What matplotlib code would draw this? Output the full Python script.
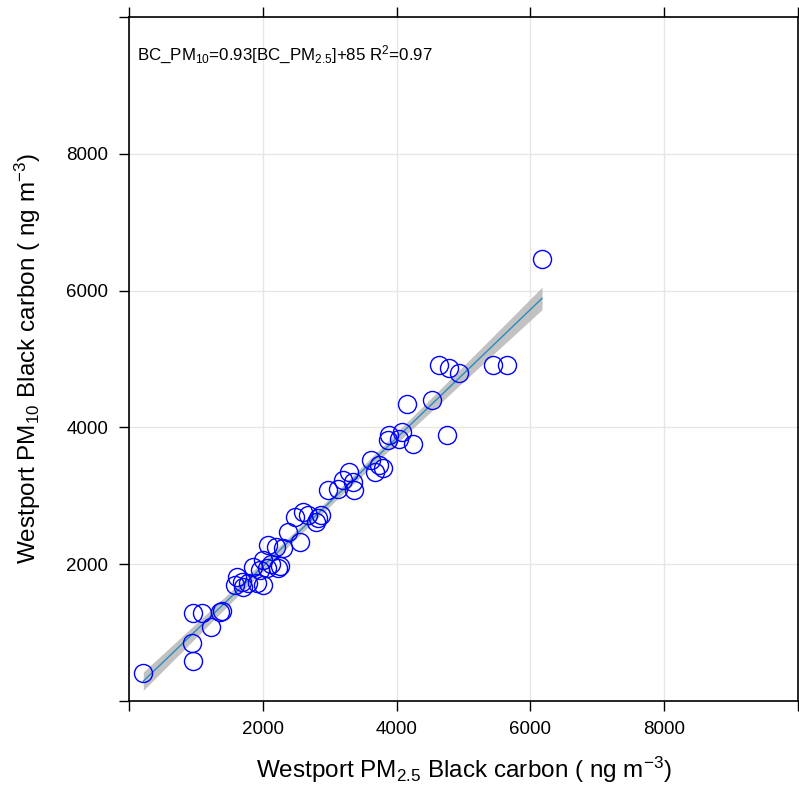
import numpy as np
import matplotlib
matplotlib.use("Agg")
import matplotlib.pyplot as plt

plt.rcParams['font.family'] = ['Liberation Sans', 'DejaVu Sans']
plt.rcParams['mathtext.default'] = 'regular'

# BC in PM2.5 (x) and PM10 (y), ng m-3
pm25 = [214, 942, 957, 957, 1090, 1224, 1354, 1392, 1610, 1585,
        1704, 1689, 1782, 1907, 2005, 1857, 1956, 2005, 2056, 2130,
        2228, 2253, 2079, 2204, 2302, 2550, 2376, 2476, 2599, 2673,
        2822, 2798, 2872, 2970, 3119, 3193, 3293, 3342, 3367, 3615,
        3679, 3738, 3798, 3876, 3887, 4035, 4084, 4248, 4159, 4530,
        4753, 4629, 4778, 4937, 5446, 5644, 6174]
pm10 = [410, 849, 588, 1283, 1290, 1078, 1298, 1312, 1810, 1693,
        1663, 1737, 1718, 1718, 1693, 1956, 1912, 2059, 1941, 2010,
        1937, 1971, 2278, 2253, 2230, 2326, 2473, 2692, 2765, 2717,
        2669, 2619, 2717, 3083, 3093, 3229, 3350, 3204, 3083, 3522,
        3350, 3448, 3400, 3814, 3887, 3824, 3936, 3751, 4337, 4399,
        3887, 4911, 4863, 4790, 4911, 4911, 6462]

ticks = [0, 2000, 4000, 6000, 8000, 10000]
tick_labels = ['', '2000', '4000', '6000', '8000', '']

x = np.array(pm25, dtype=float)
y = np.array(pm10, dtype=float)

# linear fit and 95% confidence band
n = len(x)
b, a = np.polyfit(x, y, 1)
resid = y - (a + b * x)
s = np.sqrt(np.sum(resid ** 2) / (n - 2))
xs = np.linspace(x.min(), x.max(), 100)
se = s * np.sqrt(1.0 / n + (xs - x.mean()) ** 2 / np.sum((x - x.mean()) ** 2))
fit = a + b * xs

fig = plt.figure(figsize=(7.99, 7.87), dpi=100)
ax = fig.add_axes([0.1614, 0.1093, 0.8373, 0.8691])

ax.grid(True, color='#e6e6e6', linewidth=1)
ax.set_axisbelow(True)
ax.fill_between(xs, fit - 2.0 * se, fit + 2.0 * se, color='#b3b3b3', alpha=0.8, linewidth=0)
ax.plot(xs, fit, color='#2b8cbe', linewidth=1)
ax.plot(x, y, 'o', markerfacecolor='none', markeredgecolor='#0000ff',
        markersize=13, markeredgewidth=1)

ax.set_xlim(0, 9945)
ax.set_ylim(0, 10000)
ax.set_xticks(ticks)
ax.set_xticklabels(tick_labels)
ax.set_yticks(ticks)
ax.set_yticklabels(tick_labels)
ax.tick_params(direction='out', length=7, width=1, labelsize=13.5,
               top=True, right=True)
ax.tick_params(axis='x', pad=7.5)
ax.tick_params(axis='y', pad=8)
for sp in ax.spines.values():
    sp.set_linewidth(1.2)

ax.set_xlabel(r'Westport PM$_{2.5}$ Black carbon ( ng m$^{-3}$)', fontsize=17.5, labelpad=12)
ax.set_ylabel(r'Westport PM$_{10}$ Black carbon ( ng m$^{-3}$)', fontsize=17.5, labelpad=17)

ax.text(0.012, 0.944, r'BC_PM$_{10}$=0.93[BC_PM$_{2.5}$]+85 R$^{2}$=0.97',
        transform=ax.transAxes, fontsize=12.2, va='center', ha='left')

fig.savefig('out.png', dpi=100)
